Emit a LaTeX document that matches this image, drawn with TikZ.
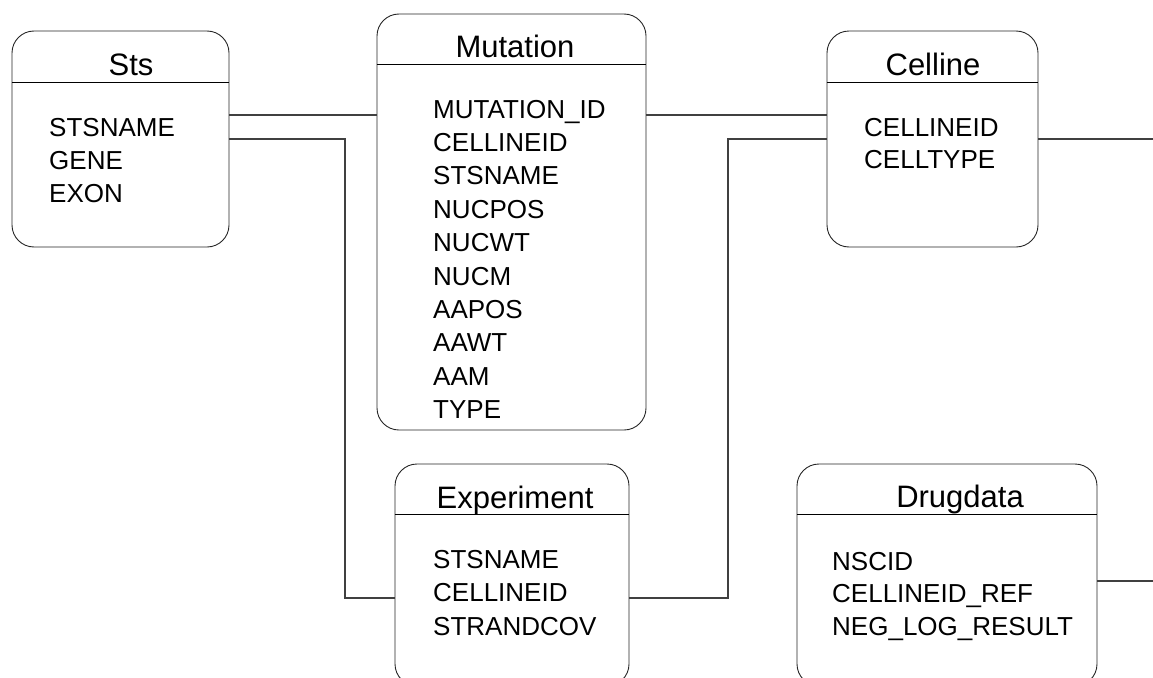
\documentclass[tikz,border=0pt]{standalone}
\usepackage{fontspec}
\setmainfont{Liberation Sans}
\begin{document}
\begin{tikzpicture}[x=1pt,y=-1pt,
  entity/.style={draw=black!85,line width=0.9pt,rounded corners=22pt,inner sep=0pt},
  hline/.style={draw=black,line width=0.9pt},
  conn/.style={draw=black!75,line width=1.2pt},
  ttl/.style={anchor=base,inner sep=0pt,font=\fontsize{31}{36}\selectfont},
  fld/.style={anchor=base west,inner sep=0pt,font=\fontsize{26}{33}\selectfont}]
\useasboundingbox (0,0) rectangle (1153,677);
\clip (0,0) rectangle (1153,677);
% boxes
\node[entity,minimum width=217pt,minimum height=216pt] (sts) at (120.5,139) {};
\node[entity,minimum width=269pt,minimum height=416pt] (mut) at (511.5,222) {};
\node[entity,minimum width=211pt,minimum height=216pt] (cel) at (932.5,139) {};
\node[entity,minimum width=234pt,minimum height=222pt] (exp) at (512,575) {};
\node[entity,minimum width=300pt,minimum height=222pt] (drug) at (947,575) {};
% header lines
\draw[hline] (sts.west |- 0,82) -- (sts.east |- 0,82);
\draw[hline] (mut.west |- 0,64) -- (mut.east |- 0,64);
\draw[hline] (cel.west |- 0,82) -- (cel.east |- 0,82);
\draw[hline] (exp.west |- 0,514) -- (exp.east |- 0,514);
\draw[hline] (drug.west |- 0,514) -- (drug.east |- 0,514);
% titles
\node[ttl] (stsT) at (131,75) {Sts};
\node[ttl] (mutT) at (515,57) {Mutation};
\node[ttl] (celT) at (933,75) {Celline};
\node[ttl] (expT) at (515,508) {Experiment};
\node[ttl] (drugT) at (960,507) {Drugdata};
% fields
\foreach \t [count=\i from 0] in {STSNAME,GENE,EXON}
  \node[fld] (stsF\i) at (49,136+33*\i) {\t};
\foreach \t [count=\i from 0] in {MUTATION\_ID,CELLINEID,STSNAME,NUCPOS,NUCWT,NUCM,AAPOS,AAWT,AAM,TYPE}
  \node[fld] (mutF\i) at (433,118+33.4*\i) {\t};
\foreach \t [count=\i from 0] in {CELLINEID,CELLTYPE}
  \node[fld] (celF\i) at (864,136+32.5*\i) {\t};
\foreach \t [count=\i from 0] in {STSNAME,CELLINEID,STRANDCOV}
  \node[fld] (expF\i) at (433,568+33.5*\i) {\t};
\foreach \t [count=\i from 0] in {NSCID,CELLINEID\_REF,NEG\_LOG\_RESULT}
  \node[fld] (drugF\i) at (832,570+32.5*\i) {\t};
% connector bend points
\coordinate (b1) at (345,139);
\coordinate (b2) at (345,598);
\coordinate (b3) at (728,598);
\coordinate (b4) at (728,139);
\coordinate (e1) at (1153,139);
\coordinate (e2) at (1153,581);
% connectors
\draw[conn] (sts.east |- 0,115) -- (mut.west |- 0,115);
\draw[conn] (mut.east |- 0,115) -- (cel.west |- 0,115);
\draw[conn] (sts.east |- b1) -- (b1) -- (b2) -- (exp.west |- b2);
\draw[conn] (exp.east |- b3) -- (b3) -- (b4) -- (cel.west |- b4);
\draw[conn] (cel.east |- e1) -- (e1);
\draw[conn] (drug.east |- e2) -- (e2);
\end{tikzpicture}
\end{document}
